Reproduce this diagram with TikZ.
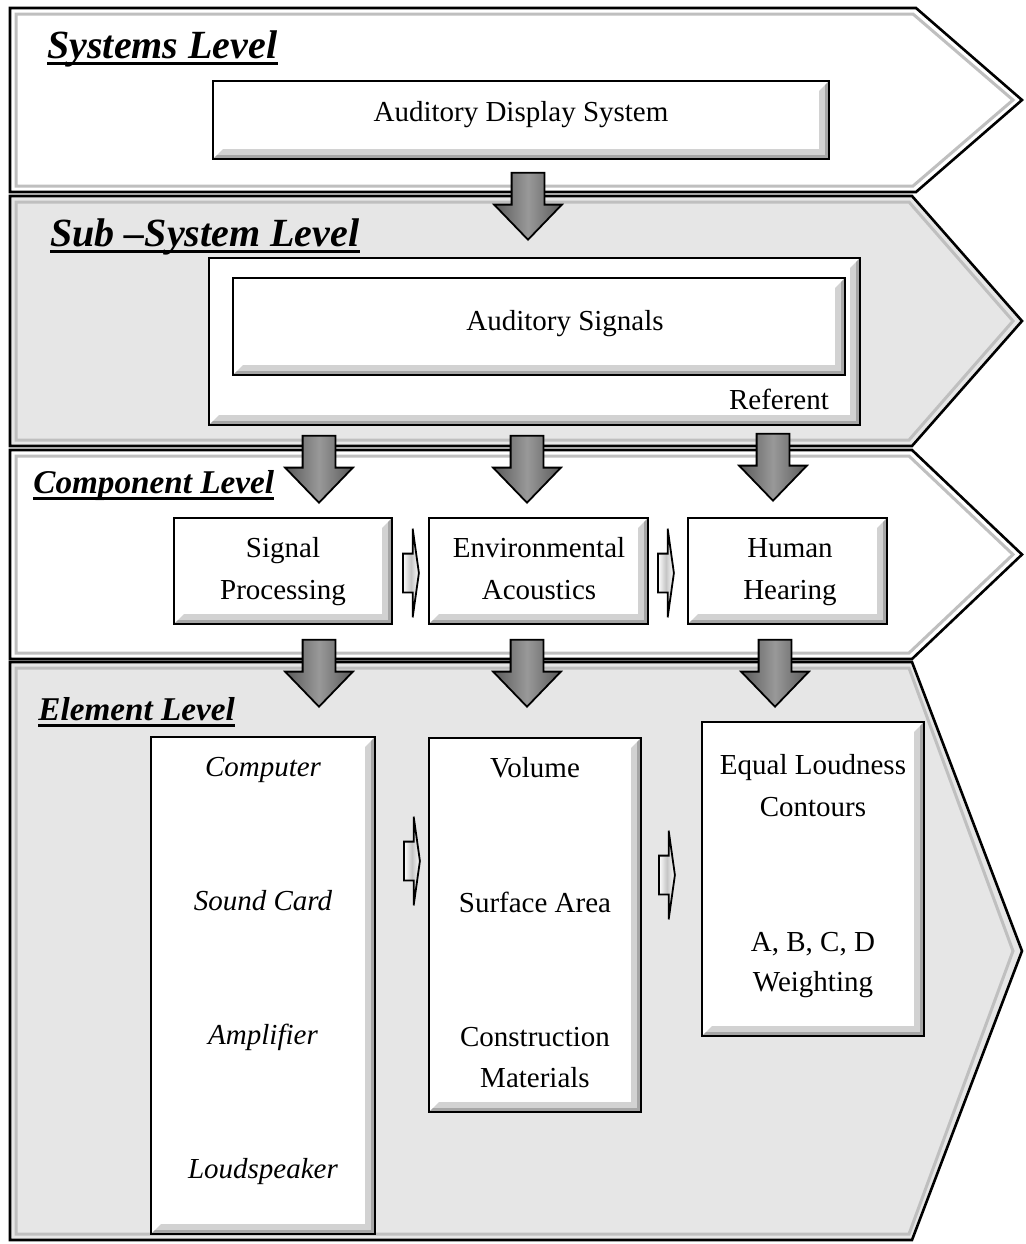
\documentclass[tikz,border=0pt]{standalone}
\usepackage{fontspec}
\setmainfont{Liberation Serif}
\usetikzlibrary{shapes.arrows,fit}
\definecolor{bandgray}{HTML}{E6E6E6}

\begin{document}
\begin{tikzpicture}[x=0.5pt,y=-0.5pt,
	band/.style={draw=black,line width=1.3pt},
	bandedge/.style={draw=gray!50,line width=1.5pt},
	head/.style={anchor=base west,inner sep=0pt,font=\fontsize{20}{24}\selectfont\bfseries\itshape},
	smallhead/.style={head,font=\fontsize{16.6}{20}\selectfont\bfseries\itshape},
	txt/.style={anchor=base,inner sep=0pt,font=\fontsize{14.5}{17}\selectfont},
	itxt/.style={txt,font=\fontsize{14.5}{17}\selectfont\itshape},
	bevel/.style={path picture={
		\fill[gray!35] (path picture bounding box.north east) |- (path picture bounding box.south west)
			-- ++(5pt,5pt) -| ([shift={(-5pt,-5pt)}]path picture bounding box.north east) -- cycle;
		\fill[gray!70] (path picture bounding box.north east) |- (path picture bounding box.south west)
			-- ++(2pt,2pt) -| ([shift={(-2pt,-2pt)}]path picture bounding box.north east) -- cycle;
	}},
	box/.style={draw=black,line width=1.1pt,fill=white,inner sep=0pt,bevel},
	down/.style={single arrow,rotate=-90,anchor=tip,draw=black,line width=0.9pt,inner xsep=0pt,inner ysep=7.75pt,
		minimum height=33.5pt,single arrow head extend=8.75pt,single arrow tip angle=88,
		left color=black!65,right color=black!65,middle color=black!40},
	next/.style={single arrow,anchor=tail,draw=black,line width=0.9pt,inner xsep=0pt,inner ysep=9.25pt,
		minimum height=8pt,single arrow head extend=12.5pt,single arrow tip angle=164,
		left color=white,right color=white,middle color=gray!45}]
	\useasboundingbox (0,0) rectangle (1025,1244);

	% level bands
	\foreach \t/\b/\n/\f in {8/192/916/white,196/446/912/bandgray,450/659/912/white,662/1240/912/bandgray}{
		\pgfmathsetmacro\m{(\t+\b)/2}
		\draw[band,fill=\f] (10,\t) -- (\n,\t) -- (1022,\m) -- (\n,\b) -- (10,\b) -- cycle;
		\draw[bandedge] (16,{\t+6}) -- ({\n-3},{\t+6}) -- (1013,\m) -- ({\n-3},{\b-6}) -- (16,{\b-6}) -- cycle;
	}

	% level titles, underlined
	\node[head] (syshead) at (47,58) {Systems Level};
	\node[head] (subhead) at (50,246) {Sub –System Level};
	\node[smallhead] (comphead) at (33,493) {Component Level};
	\node[smallhead] (elemhead) at (38,720) {Element Level};
	\foreach \h in {syshead,subhead,comphead,elemhead}
		\draw[line width=1.4pt] ([yshift=-2.6pt]\h.base west) -- ([yshift=-2.6pt]\h.base east);

	% boxes
	\node[box,fit={(213,81) (829,159)}] (ads) {};
	\node[box,fit={(209,258) (860,425)}] (referent) {};
	\node[box,fit={(233,278) (845,375)}] (signals) {};
	\node[box,fit={(174,518) (392,624)}] (sigproc) {};
	\node[box,fit={(429,518) (648,624)}] (envac) {};
	\node[box,fit={(688,518) (887,624)}] (hearing) {};
	\node[box,fit={(151,737) (375,1234)}] (hardware) {};
	\node[box,fit={(429,738) (641,1112)}] (room) {};
	\node[box,fit={(702,722) (924,1036)}] (loudness) {};

	% texts
	\node[txt] (adstext) at (521,121) {Auditory Display System};
	\node[txt] (sigtext) at (565,330) {Auditory Signals};
	\node[txt] (reftext) at (779,409) {Referent};
	\node[txt] (sp1) at (283,557) {Signal};
	\node[txt] (sp2) at (283,599) {Processing};
	\node[txt] (ea1) at (539,557) {Environmental};
	\node[txt] (ea2) at (539,599) {Acoustics};
	\node[txt] (hh1) at (790,557) {Human};
	\node[txt] (hh2) at (790,599) {Hearing};
	\node[itxt] (hw1) at (263,776) {Computer};
	\node[itxt] (hw2) at (263,910) {Sound Card};
	\node[itxt] (hw3) at (263,1044) {Amplifier};
	\node[itxt] (hw4) at (263,1178) {Loudspeaker};
	\node[txt] (rm1) at (535,777) {Volume};
	\node[txt] (rm2) at (535,912) {Surface Area};
	\node[txt] (rm3) at (535,1046) {Construction};
	\node[txt] (rm4) at (535,1087) {Materials};
	\node[txt] (ld1) at (813,774) {Equal Loudness};
	\node[txt] (ld2) at (813,816) {Contours};
	\node[txt] (ld3) at (813,951) {A, B, C, D};
	\node[txt] (ld4) at (813,991) {Weighting};

	% block arrows between levels
	\node[down] (a0) at (528,241) {};
	\node[down] (a11) at (319,504) {};
	\node[down] (a12) at (527,504) {};
	\node[down] (a13) at (773,502) {};
	\node[down] (a21) at (319,708) {};
	\node[down] (a22) at (527,708) {};
	\node[down] (a23) at (775,708) {};

	% small arrows between boxes
	\node[next] (s1) at (402,573) {};
	\node[next] (s2) at (657,573) {};
	\node[next] (s3) at (403,861) {};
	\node[next] (s4) at (658,875) {};
\end{tikzpicture}
\end{document}
